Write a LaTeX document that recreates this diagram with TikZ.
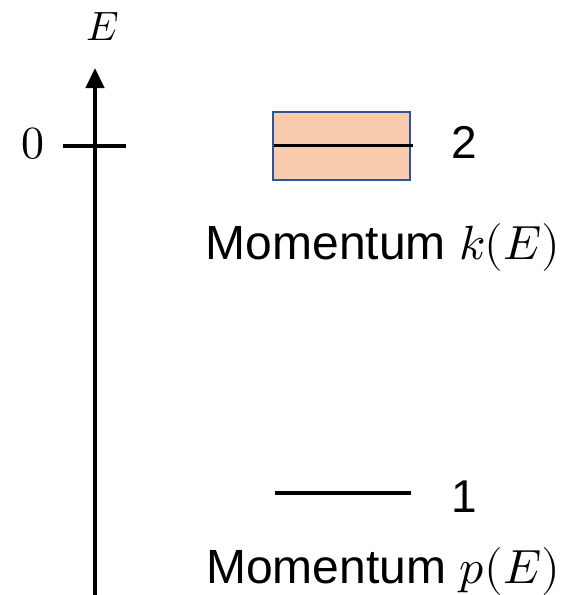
\documentclass[tikz,border=0pt]{standalone}
\usepackage{fontspec}
\usepackage{unicode-math}
\setmainfont{Liberation Sans}
\setmathfont{Latin Modern Math}
\usepackage{tikz}
\usetikzlibrary{positioning, arrows.meta}

\definecolor{bandfill}{HTML}{F8CBAD}
\definecolor{banddraw}{HTML}{2F5597}

\begin{document}
\begin{tikzpicture}[
      x=1pt, y=-1pt,
      font=\fontsize{48}{54}\selectfont,
      axis/.style={line width=4.5pt, -{Triangle[length=20pt, width=18pt]}},
      level/.style={line width=3.5pt},
      band/.style={draw=banddraw, fill=bandfill, line width=2pt, minimum width=137pt, minimum height=68pt, inner sep=0pt},
      lbl/.style={inner sep=0pt, anchor=base},
    ]
    \useasboundingbox (0,0) rectangle (570,595);

    % energy axis
    \coordinate (bot) at (95,595);
    \coordinate (top) at (95,68);
    \draw[axis] (bot) -- (top);
    \node[lbl, font=\fontsize{41}{46}\selectfont] (elbl) at (103,40) {$E$};

    % zero tick
    \coordinate (tickl) at (63,146);
    \coordinate (tickr) at (126,146);
    \draw[line width=3.5pt] (tickl) -- (tickr);
    \node[lbl, font=\fontsize{46}{52}\selectfont] (zero) at (33,158) {$0$};

    % level 2 with band
    \node[band] (bandbox) at (341,145.5) {};
    \path (bandbox.west) ++(2pt,0) coordinate (l2a) (bandbox.east) ++(2pt,0) coordinate (l2b);
    \draw[level] (l2a) -- (l2b);
    \node[lbl, font=\fontsize{46}{52}\selectfont] (two) at (464,158) {2};
    \node[lbl] (klbl) at (383,259) {Momentum $k(E)$};

    % level 1
    \coordinate (l1a) at (275,493);
    \coordinate (l1b) at (411,493);
    \draw[level] (l1a) -- (l1b);
    \node[lbl, font=\fontsize{46}{52}\selectfont] (one) at (464,512) {1};
    \node[lbl] (plbl) at (383,583) {Momentum $p(E)$};
\end{tikzpicture}
\end{document}
